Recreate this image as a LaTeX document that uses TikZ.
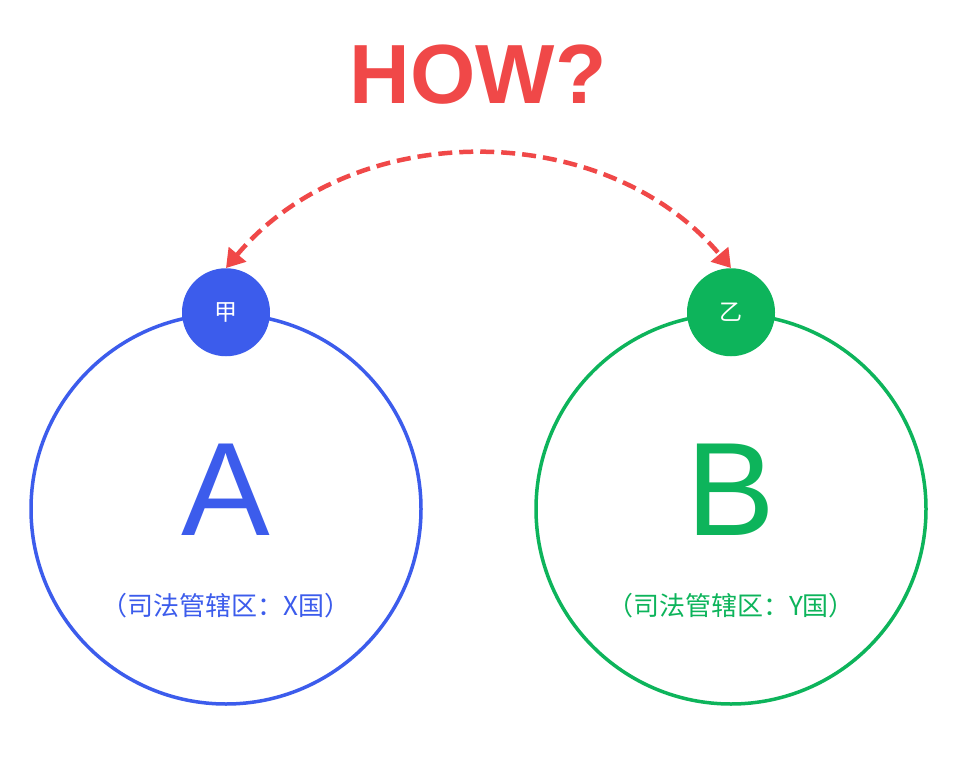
\documentclass[tikz,border=0pt]{standalone}
\usepackage{fontspec}
\setmainfont{Liberation Sans}
\newfontfamily\cjk{Noto Sans CJK SC}
\usetikzlibrary{arrows.meta}

\definecolor{blueA}{HTML}{3C5CEC}
\definecolor{greenB}{HTML}{0DB45B}
\definecolor{redhow}{HTML}{F04848}

\tikzset{
  big/.style={circle, line width=3.5pt, minimum size=390pt, inner sep=0pt},
  small/.style={circle, minimum size=88pt, inner sep=0pt, text=white, font=\cjk\fontsize{23pt}{23pt}\selectfont},
  letter/.style={inner sep=0pt, font=\fontsize{133pt}{133pt}\selectfont},
  place/.style={inner sep=0pt, font=\cjk\fontsize{26pt}{26pt}\selectfont},
  howline/.style={draw=redhow, line width=4.5pt, dash pattern=on 14pt off 7pt,
    {Triangle[width=22pt,length=18pt]}-{Triangle[width=22pt,length=18pt]}}
}

\begin{document}
\begin{tikzpicture}[x=1pt,y=-1pt]
\useasboundingbox[fill=white] (0,0) rectangle (960,759);

\node[font=\bfseries\fontsize{84pt}{84pt}\selectfont, text=redhow] (how) at (478,75) {HOW?};

\fill node[big, draw=blueA] (a) at (226,509) {};
\fill node[big, draw=greenB, right of=a, node distance=505pt] (b) {};

\fill node[small, fill=blueA] (jia) at (a.north) {甲};
\fill node[small, fill=greenB] (yi) at (b.north) {乙};

\node[letter, text=blueA] (a-letter) at (226,490) {A};
\node[letter, text=greenB, right of=a-letter, node distance=505pt] (b-letter) {B};

\node[place, text=blueA] (a-place) at (226,606) {（司法管辖区：X国）};
\node[place, text=greenB, right of=a-place, node distance=505pt] (b-place) {（司法管辖区：Y国）};

\draw[howline, bend left=50] (jia.north) to (yi.north);
\end{tikzpicture}
\end{document}
